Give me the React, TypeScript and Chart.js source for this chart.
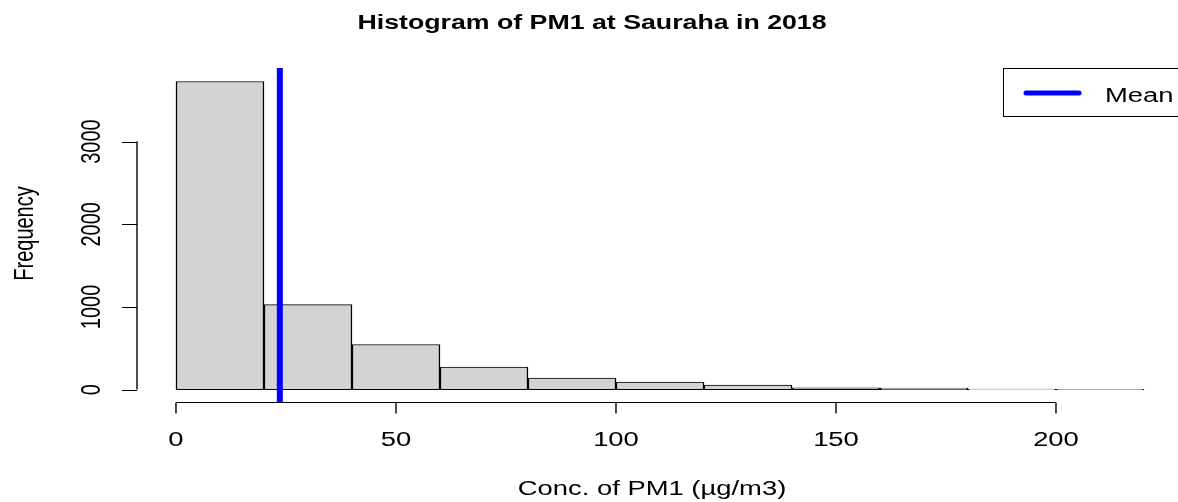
import React, { useEffect, useRef } from "react";
import { Chart, registerables } from "chart.js";

Chart.register(...registerables);

const binCenters = [10, 30, 50, 70, 90, 110, 130, 150, 170, 190, 210];
const frequencies = [3727, 1028, 546, 273, 138, 90, 55, 20, 18, 5, 3];
const meanValue = 23.6;
const xTicks = [0, 50, 100, 150, 200];
const yTicks = [0, 1000, 2000, 3000];
const titleText = "Histogram of PM1 at Sauraha in 2018";
const xLabel = "Conc. of PM1 (µg/m3)";
const yLabel = "Frequency";
const legendLabel = "Mean";

const FONT = "'Liberation Sans', Arial, Helvetica, sans-serif";
const SX = 1.37;

function stretchedText(
  ctx: CanvasRenderingContext2D,
  text: string,
  x: number,
  y: number,
  font: string,
  align: CanvasTextAlign,
  rotate = false
) {
  ctx.save();
  ctx.translate(x, y);
  ctx.scale(SX, 1);
  if (rotate) ctx.rotate(-Math.PI / 2);
  ctx.font = font;
  ctx.textAlign = align;
  ctx.textBaseline = "alphabetic";
  ctx.fillText(text, 0, 0);
  ctx.restore();
}

const rAxesPlugin = {
  id: "rAxes",
  afterDraw(chart: any) {
    const ctx = chart.ctx as CanvasRenderingContext2D;
    const xs = chart.scales.x;
    const ys = chart.scales.y;
    const area = chart.chartArea;
    ctx.save();
    ctx.strokeStyle = "#000";
    ctx.fillStyle = "#000";

    // x axis
    const axY = Math.round(area.bottom) + 0.5;
    const x0 = xs.getPixelForValue(xTicks[0]);
    const x1 = xs.getPixelForValue(xTicks[xTicks.length - 1]);
    ctx.lineWidth = 1;
    ctx.beginPath();
    ctx.moveTo(x0, axY);
    ctx.lineTo(x1, axY);
    ctx.stroke();
    ctx.lineWidth = 1.4;
    ctx.beginPath();
    for (const t of xTicks) {
      const px = xs.getPixelForValue(t);
      ctx.moveTo(px, axY);
      ctx.lineTo(px, axY + 11);
    }
    ctx.stroke();
    for (const t of xTicks) {
      stretchedText(ctx, String(t), xs.getPixelForValue(t), 446, `20px ${FONT}`, "center");
    }

    // y axis
    const axX = Math.round(area.left);
    const y0 = ys.getPixelForValue(yTicks[0]);
    const y1 = ys.getPixelForValue(yTicks[yTicks.length - 1]);
    ctx.lineWidth = 1.4;
    ctx.beginPath();
    ctx.moveTo(axX, y0);
    ctx.lineTo(axX, y1);
    ctx.stroke();
    ctx.lineWidth = 1;
    ctx.beginPath();
    for (const t of yTicks) {
      const py = Math.round(ys.getPixelForValue(t)) + 0.5;
      ctx.moveTo(axX, py);
      ctx.lineTo(axX - 15, py);
    }
    ctx.stroke();
    for (const t of yTicks) {
      stretchedText(ctx, String(t), 100, ys.getPixelForValue(t), `20px ${FONT}`, "center", true);
    }

    // axis titles
    stretchedText(ctx, xLabel, 652, 495, `20px ${FONT}`, "center");
    stretchedText(ctx, yLabel, 33, 233.5, `20px ${FONT}`, "center", true);

    // title
    stretchedText(ctx, titleText, 592, 29, `bold 19.5px ${FONT}`, "center");

    // legend box
    ctx.fillStyle = "#fff";
    ctx.fillRect(1003, 68, 200, 49);
    ctx.strokeStyle = "#000";
    ctx.lineWidth = 1;
    ctx.strokeRect(1003.5, 68.5, 200, 48);
    ctx.strokeStyle = "#0000ff";
    ctx.lineWidth = 5;
    ctx.lineCap = "round";
    ctx.beginPath();
    ctx.moveTo(1026, 93);
    ctx.lineTo(1079, 93);
    ctx.stroke();
    ctx.fillStyle = "#000";
    stretchedText(ctx, legendLabel, 1105, 101.5, `20px ${FONT}`, "left");
    ctx.restore();
  },
};

export default function App() {
  const ref = useRef<HTMLCanvasElement>(null);
  useEffect(() => {
    document.body.style.margin = "0";
    const chart = new Chart(ref.current!, {
      type: "bar",
      data: {
        datasets: [
          {
            type: "bar",
            label: "Frequency",
            data: binCenters.map((c, i) => ({ x: c, y: frequencies[i] })),
            backgroundColor: "#d3d3d3",
            borderColor: "#000",
            borderWidth: { top: 1, bottom: 1, left: 1.5, right: 1.5 },
            borderSkipped: false,
            barPercentage: 1,
            categoryPercentage: 1,
            order: 2,
          } as any,
          {
            type: "line",
            label: legendLabel,
            data: [
              { x: meanValue, y: -200 },
              { x: meanValue, y: 4000 },
            ],
            borderColor: "#0000ff",
            borderWidth: 6,
            pointRadius: 0,
            order: 1,
          } as any,
        ],
      },
      options: {
        animation: false,
        responsive: false,
        devicePixelRatio: 1,
        layout: { padding: { left: 137, right: 0, top: 68, bottom: 100 } },
        scales: {
          x: { type: "linear", min: -8.86, max: 227.73, offset: false, display: false },
          y: { type: "linear", min: -150, max: 3890, display: false },
        },
        plugins: {
          legend: { display: false },
          tooltip: { enabled: false },
          title: { display: false },
        },
      },
      plugins: [rAxesPlugin],
    });
    return () => chart.destroy();
  }, []);
  return (
    <div style={{ width: 1178, height: 502, background: "#fff" }}>
      <canvas ref={ref} width={1178} height={502} />
    </div>
  );
}
